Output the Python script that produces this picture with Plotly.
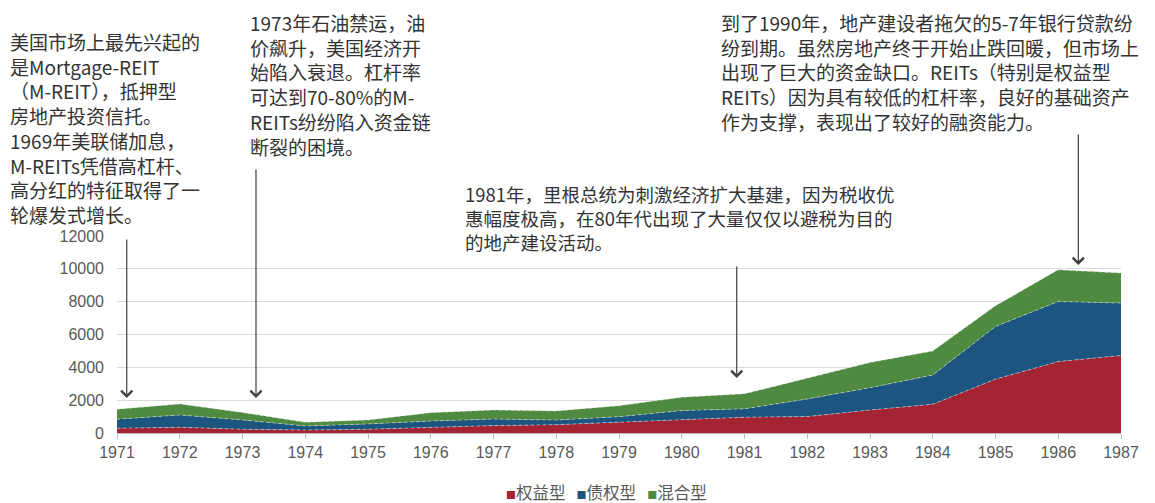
import plotly.graph_objects as go

# REIT market size by type, 1971-1987
years = list(range(1971, 1988))
equity = [290, 350, 230, 180, 230, 350, 450, 510, 670, 840, 960, 1000, 1400, 1750, 3280, 4350, 4720]
mortgage = [550, 750, 565, 250, 325, 380, 400, 280, 325, 525, 510, 1075, 1360, 1785, 3205, 3660, 3195]
hybrid = [610, 670, 450, 220, 240, 510, 550, 550, 670, 815, 915, 1265, 1530, 1465, 1265, 1930, 1825]

series_names = ["权益型", "债权型", "混合型"]
series_colors = ["#A52434", "#1C5680", "#4E8A3F"]
y_ticks = [0, 2000, 4000, 6000, 8000, 10000, 12000]

notes = [
    "美国市场上最先兴起的<br>是Mortgage-REIT<br>（M-REIT），抵押型<br>房地产投资信托。<br>1969年美联储加息，<br>M-REITs凭借高杠杆、<br>高分红的特征取得了一<br>轮爆发式增长。",
    "1973年石油禁运，油<br>价飙升，美国经济开<br>始陷入衰退。杠杆率<br>可达到70-80%的M-<br>REITs纷纷陷入资金链<br>断裂的困境。",
    "1981年，里根总统为刺激经济扩大基建，因为税收优<br>惠幅度极高，在80年代出现了大量仅仅以避税为目的<br>的地产建设活动。",
    "到了1990年，地产建设者拖欠的5-7年银行贷款纷<br>纷到期。虽然房地产终于开始止跌回暖，但市场上<br>出现了巨大的资金缺口。REITs（特别是权益型<br>REITs）因为具有较低的杠杆率，良好的基础资产<br>作为支撑，表现出了较好的融资能力。",
]

W, H = 1155, 503
ML, MR, MT, MB = 117, 34, 236, 70
PW, PH = W - ML - MR, H - MT - MB


def paper_x(px):
    return (px - ML) / PW


def paper_y(py):
    return (H - MB - py) / PH


fig = go.Figure()
for name, vals, color in zip(series_names, [equity, mortgage, hybrid], series_colors):
    fig.add_trace(go.Scatter(
        x=years, y=vals, name=name, stackgroup="reits", mode="lines",
        fillcolor=color,
        line=dict(width=1, color="rgba(235,235,235,0.55)", dash="dot"),
        showlegend=False,
    ))

# annotation text blocks: (left px, top px, font size)
note_boxes = [(8, 26, 19), (248, 7, 19), (463, 179, 18.5), (719, 7, 19)]
for txt, (lx, ty, fs) in zip(notes, note_boxes):
    fig.add_annotation(
        text=txt, xref="paper", yref="paper", x=paper_x(lx), y=paper_y(ty),
        xanchor="left", yanchor="top", align="left", showarrow=False,
        font=dict(family="Noto Sans CJK SC", size=fs, color="#333333"),
    )

# pointer arrows: (year position, value at tip, tail offset in px)
pointers = [(1971.155, 2130, -160), (1973.215, 2130, -230),
            (1980.876, 3350, -113), (1986.32, 10240, -132)]
for xv, yv, off in pointers:
    fig.add_annotation(
        x=xv, y=yv, xref="x", yref="y", ax=0, ay=off, text="",
        showarrow=True, arrowhead=4, arrowsize=1.8, arrowwidth=1.2,
        arrowcolor="#404040",
    )

# legend row
legend_parts = []
for name, color in zip(series_names, series_colors):
    legend_parts.append(
        f"<span style='color:{color};font-size:10px'>■</span>{name}"
    )
fig.add_annotation(
    text="   ".join(legend_parts), xref="paper", yref="paper",
    x=paper_x(606), y=paper_y(492), xanchor="center", yanchor="middle",
    showarrow=False, font=dict(family="Noto Sans CJK SC", size=16.5, color="#595959"),
)

fig.update_layout(
    width=W, height=H,
    margin=dict(l=ML, r=MR, t=MT, b=MB),
    paper_bgcolor="white", plot_bgcolor="white",
    showlegend=False,
    font=dict(family="Liberation Sans", size=16, color="#595959"),
)
fig.update_xaxes(
    range=[1971, 1987], tickvals=years, ticktext=[str(y) for y in years],
    showgrid=False, showline=True, linecolor="#bfbfbf", linewidth=1,
    ticks="outside", ticklen=5, tickcolor="#bfbfbf", zeroline=False,
    tickfont=dict(family="Liberation Sans", size=16, color="#595959"),
)
fig.update_yaxes(
    range=[0, 12000], tickvals=y_ticks, ticktext=[str(v) for v in y_ticks],
    showgrid=True, gridcolor="#d9d9d9",
    zeroline=False, showline=False, ticks="", ticklabelstandoff=12,
    tickfont=dict(family="Liberation Sans", size=16, color="#595959"),
)

fig.write_html("out.html")
